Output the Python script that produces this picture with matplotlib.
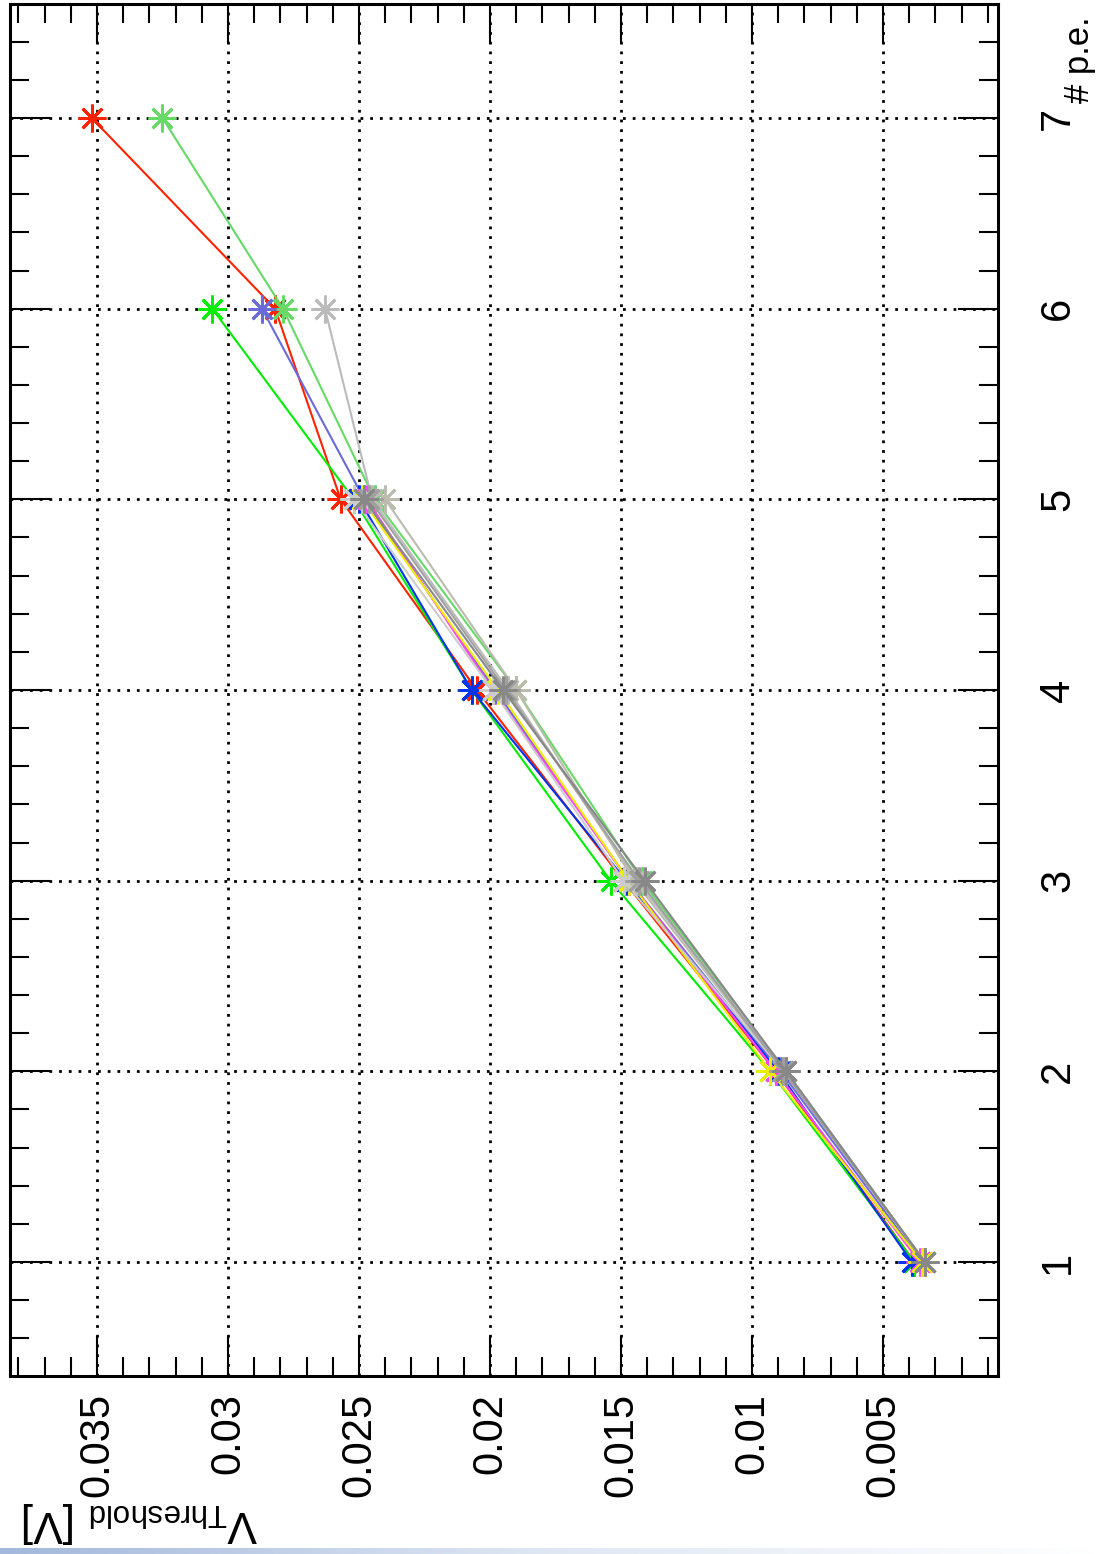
import numpy as np
import matplotlib
matplotlib.use("Agg")
import matplotlib.pyplot as plt
from matplotlib.ticker import MultipleLocator, FixedLocator, FixedFormatter
from matplotlib.colors import LinearSegmentedColormap

# numero de foto-electrones (eje vertical en la figura girada)
n_pe = [1, 2, 3, 4, 5, 6, 7]

# umbrales en V, una serie por canal
v_red = [0.0038, 0.0091, 0.0149, 0.0205, 0.0257, 0.0282, 0.0352]
v_lightgreen = [0.0034, 0.0087, 0.0142, 0.0190, 0.0244, 0.0279, 0.0325]
v_green = [0.0038, 0.0093, 0.0154, 0.0207, 0.0252, 0.0306]
v_slateblue = [0.0035, 0.0089, 0.0147, 0.0198, 0.0248, 0.0287]
v_lightgray = [0.0034, 0.0087, 0.0144, 0.0193, 0.0245, 0.0263]
v_blue = [0.0039, 0.0090, 0.0148, 0.0207, 0.0250]
v_magenta = [0.0036, 0.0091, 0.0147, 0.0199, 0.0247]
v_yellow = [0.0035, 0.0093, 0.0147, 0.0197, 0.0249]
v_darkgray = [0.0034, 0.0087, 0.0141, 0.0195, 0.0248]
v_gray = [0.0034, 0.0088, 0.0143, 0.0194, 0.0246]
v_silver = [0.0034, 0.0088, 0.0149, 0.0199, 0.0252]
v_olivegray = [0.0034, 0.0088, 0.0145, 0.0190, 0.0240]

series = [
    (v_red, "#ff2200"),
    (v_lightgreen, "#66d966"),
    (v_green, "#00ee00"),
    (v_slateblue, "#6a6ad8"),
    (v_blue, "#0033ee"),
    (v_magenta, "#ff44ff"),
    (v_yellow, "#eeee00"),
    (v_lightgray, "#bbbbbb"),
    (v_olivegray, "#bcbcae"),
    (v_silver, "#cccccc"),
    (v_gray, "#a0a0a0"),
    (v_darkgray, "#888888"),
]

v_ticks = [0.005, 0.01, 0.015, 0.02, 0.025, 0.03, 0.035]
v_ticklabels = ["0.005", "0.01", "0.015", "0.02", "0.025", "0.03", "0.035"]

plt.rcParams["font.family"] = ["Liberation Sans", "DejaVu Sans"]
plt.rcParams["mathtext.fontset"] = "custom"
plt.rcParams["mathtext.rm"] = "Liberation Sans"
plt.rcParams["mathtext.it"] = "Liberation Sans"

W, H = 1096, 1554
fig = plt.figure(figsize=(W / 100, H / 100), dpi=100)
ax = fig.add_axes([10 / W, 1 - 1376 / H, 988 / W, 1372 / H])

# grafico girado 90 grados: V en horizontal (invertido), p.e. en vertical
for vals, col in series:
    ax.plot(vals, n_pe[:len(vals)], color=col, lw=1.5,
            marker=(8, 2, 0), markersize=20, markeredgewidth=2)

ax.set_xlim(0.03832, 0.00061)
ax.set_ylim(0.402, 7.598)

ax.xaxis.set_major_locator(FixedLocator(v_ticks))
ax.xaxis.set_major_formatter(FixedFormatter(v_ticklabels))
ax.xaxis.set_minor_locator(MultipleLocator(0.001))
ax.yaxis.set_major_locator(FixedLocator(n_pe))
ax.yaxis.set_minor_locator(MultipleLocator(0.2))

ax.tick_params(which="both", direction="in", top=True, right=True,
               left=True, bottom=True, labelleft=False, labelright=True,
               width=1.5, color="black", labelsize=30)
ax.tick_params(which="major", length=29)
ax.tick_params(which="minor", length=14)
ax.tick_params(axis="x", pad=12)
ax.tick_params(axis="y", pad=29)
for lab in ax.get_xticklabels():
    lab.set_rotation(90)
for lab in ax.get_yticklabels():
    lab.set_rotation(90)
    lab.set_verticalalignment("center")

ax.grid(True, which="major", color="black", lw=2, linestyle=(0, (1, 2.5)))
ax.set_axisbelow(True)
for sp in ax.spines.values():
    sp.set_linewidth(2.2)

fig.text(1079 / W, 1 - 16 / H, "# p.e.", rotation=90, ha="center", va="top",
         fontsize=25)
fig.text(258 / W, 1 - 1522 / H, r"V$_{\mathrm{Threshold}}$ [V]", rotation=180,
         ha="right", va="center", fontsize=32)

# franja azul del borde inferior
strip = fig.add_axes([0, 0, 1, 6 / H])
cmap = LinearSegmentedColormap.from_list("strip", ["#a3b8dc", "#dfe7f3", "#ffffff"])
strip.imshow(np.linspace(0, 1, 256)[None, :], aspect="auto", cmap=cmap)
strip.axis("off")

fig.savefig("out.png", dpi=100)
